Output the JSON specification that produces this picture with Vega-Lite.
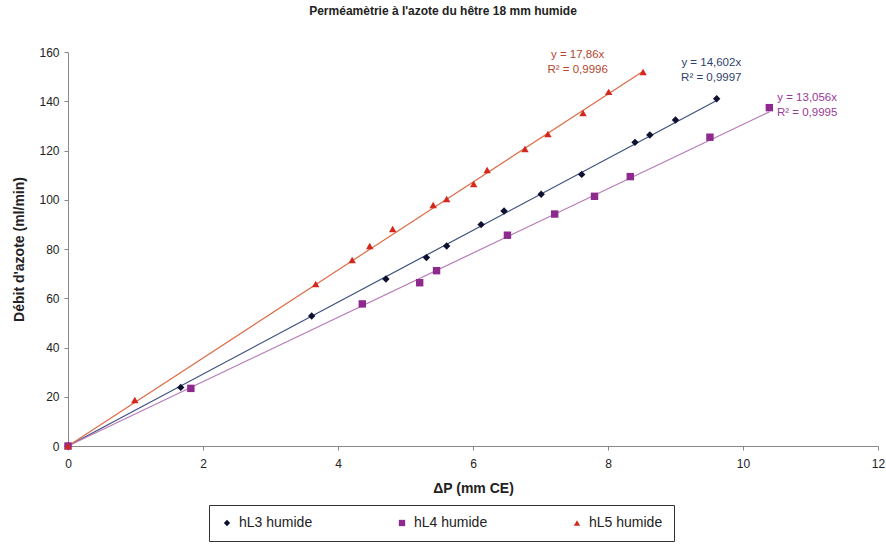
{
  "$schema": "https://vega.github.io/schema/vega-lite/v6.json",
  "autosize": {"type": "none"},
  "padding": {"left": 68, "top": 52, "right": 8, "bottom": 101},
  "width": 810,
  "height": 394,
  "background": "white",
  "title": {
    "text": "Perméamètrie à l'azote du hêtre 18 mm humide",
    "font": "Liberation Sans",
    "fontSize": 12,
    "fontWeight": "bold",
    "color": "#222222",
    "anchor": "middle",
    "dx": -30,
    "offset": 28
  },
  "config": {
    "view": {"stroke": null},
    "axis": {
      "grid": false,
      "labelFlush": false,
      "domainColor": "#888888",
      "tickColor": "#888888",
      "tickSize": 4,
      "labelFont": "Liberation Sans",
      "labelFontSize": 12,
      "labelColor": "#222222",
      "titleFont": "Liberation Sans",
      "titleFontSize": 14,
      "titleFontWeight": "bold",
      "titleColor": "#222222"
    },
    "legend": {
      "orient": "none",
      "legendX": 141,
      "legendY": 453,
      "direction": "horizontal",
      "columnPadding": 82,
      "padding": 11,
      "strokeColor": "#333333",
      "symbolSize": 40,
      "labelOffset": 5,
      "labelFont": "Liberation Sans",
      "labelFontSize": 14,
      "labelColor": "#222222"
    }
  },
  "datasets": {
    "points": [
      {"series": "hL3 humide", "dp": 0, "debit": 0},
      {"series": "hL3 humide", "dp": 1.67, "debit": 23.8},
      {"series": "hL3 humide", "dp": 3.61, "debit": 52.8},
      {"series": "hL3 humide", "dp": 4.71, "debit": 67.8},
      {"series": "hL3 humide", "dp": 5.31, "debit": 76.5},
      {"series": "hL3 humide", "dp": 5.61, "debit": 81.2},
      {"series": "hL3 humide", "dp": 6.12, "debit": 89.9},
      {"series": "hL3 humide", "dp": 6.46, "debit": 95.4},
      {"series": "hL3 humide", "dp": 7.01, "debit": 102.2},
      {"series": "hL3 humide", "dp": 7.61, "debit": 110.3},
      {"series": "hL3 humide", "dp": 8.40, "debit": 123.3},
      {"series": "hL3 humide", "dp": 8.62, "debit": 126.3},
      {"series": "hL3 humide", "dp": 9.00, "debit": 132.4},
      {"series": "hL3 humide", "dp": 9.61, "debit": 141.0},
      {"series": "hL4 humide", "dp": 0, "debit": 0},
      {"series": "hL4 humide", "dp": 1.82, "debit": 23.4},
      {"series": "hL4 humide", "dp": 4.36, "debit": 57.7},
      {"series": "hL4 humide", "dp": 5.21, "debit": 66.3},
      {"series": "hL4 humide", "dp": 5.46, "debit": 71.2},
      {"series": "hL4 humide", "dp": 6.51, "debit": 85.6},
      {"series": "hL4 humide", "dp": 7.21, "debit": 94.2},
      {"series": "hL4 humide", "dp": 7.80, "debit": 101.4},
      {"series": "hL4 humide", "dp": 8.33, "debit": 109.4},
      {"series": "hL4 humide", "dp": 9.51, "debit": 125.4},
      {"series": "hL4 humide", "dp": 10.39, "debit": 137.4},
      {"series": "hL5 humide", "dp": 0, "debit": 0},
      {"series": "hL5 humide", "dp": 0.99, "debit": 18.7},
      {"series": "hL5 humide", "dp": 3.67, "debit": 65.8},
      {"series": "hL5 humide", "dp": 4.21, "debit": 75.5},
      {"series": "hL5 humide", "dp": 4.47, "debit": 81.2},
      {"series": "hL5 humide", "dp": 4.81, "debit": 88.1},
      {"series": "hL5 humide", "dp": 5.41, "debit": 97.9},
      {"series": "hL5 humide", "dp": 5.61, "debit": 100.3},
      {"series": "hL5 humide", "dp": 6.01, "debit": 106.4},
      {"series": "hL5 humide", "dp": 6.21, "debit": 112.1},
      {"series": "hL5 humide", "dp": 6.77, "debit": 120.6},
      {"series": "hL5 humide", "dp": 7.11, "debit": 126.7},
      {"series": "hL5 humide", "dp": 7.63, "debit": 135.2},
      {"series": "hL5 humide", "dp": 8.01, "debit": 143.8},
      {"series": "hL5 humide", "dp": 8.52, "debit": 151.9}
    ],
    "trend": [
      {"courbe": "tendance hL3", "dp": 0, "debit": 0},
      {"courbe": "tendance hL3", "dp": 9.61, "debit": 140.3},
      {"courbe": "tendance hL4", "dp": 0, "debit": 0},
      {"courbe": "tendance hL4", "dp": 10.39, "debit": 135.7},
      {"courbe": "tendance hL5", "dp": 0, "debit": 0},
      {"courbe": "tendance hL5", "dp": 8.52, "debit": 152.2}
    ],
    "labels": [
      {"series": "hL5 humide", "dp": 7.55, "debit": 158.6, "text": "y = 17,86x"},
      {"series": "hL5 humide", "dp": 7.55, "debit": 152.5, "text": "R² = 0,9996"},
      {"series": "hL3 humide", "dp": 9.53, "debit": 155.5, "text": "y = 14,602x"},
      {"series": "hL3 humide", "dp": 9.53, "debit": 149.6, "text": "R² = 0,9997"},
      {"series": "hL4 humide", "dp": 10.95, "debit": 141.3, "text": "y = 13,056x"},
      {"series": "hL4 humide", "dp": 10.95, "debit": 135.2, "text": "R² = 0,9995"}
    ]
  },
  "layer": [
    {
      "data": {"name": "trend"},
      "mark": {"type": "line", "strokeWidth": 1.2, "clip": false},
      "encoding": {
        "x": {"field": "dp", "type": "quantitative"},
        "y": {"field": "debit", "type": "quantitative"},
        "detail": {"field": "courbe"},
        "stroke": {
          "field": "courbe",
          "type": "nominal",
          "scale": {"domain": ["tendance hL3", "tendance hL4", "tendance hL5"], "range": ["#3d4f7c", "#b77cb8", "#dd6c48"]},
          "legend": null
        }
      }
    },
    {
      "data": {"name": "points"},
      "mark": {"type": "point", "filled": true, "size": 55, "opacity": 1, "clip": false},
      "encoding": {
        "x": {
          "field": "dp",
          "type": "quantitative",
          "scale": {"domain": [0, 12], "nice": false, "zero": true},
          "axis": {"title": "ΔP (mm CE)", "values": [0, 2, 4, 6, 8, 10, 12], "format": "d", "labelPadding": 8, "titlePadding": 12}
        },
        "y": {
          "field": "debit",
          "type": "quantitative",
          "scale": {"domain": [0, 160], "nice": false},
          "axis": {"title": "Débit d'azote (ml/min)", "values": [0, 20, 40, 60, 80, 100, 120, 140, 160], "format": "d", "labelPadding": 5, "titlePadding": 12}
        },
        "fill": {
          "field": "series",
          "type": "nominal",
          "scale": {"domain": ["hL3 humide", "hL4 humide", "hL5 humide"], "range": ["#101030", "#8e2a8e", "#d4281c"]},
          "legend": {"title": null}
        },
        "shape": {
          "field": "series",
          "type": "nominal",
          "scale": {"domain": ["hL3 humide", "hL4 humide", "hL5 humide"], "range": ["diamond", "square", "triangle-up"]},
          "legend": {"title": null}
        }
      }
    },
    {
      "data": {"name": "labels"},
      "transform": [{"filter": "datum.series === 'hL5 humide'"}],
      "mark": {"type": "text", "font": "Liberation Sans", "fontSize": 11.5, "align": "center", "baseline": "middle", "fill": "#b5472e", "clip": false},
      "encoding": {
        "x": {"field": "dp", "type": "quantitative"},
        "y": {"field": "debit", "type": "quantitative"},
        "text": {"field": "text"}
      }
    },
    {
      "data": {"name": "labels"},
      "transform": [{"filter": "datum.series === 'hL3 humide'"}],
      "mark": {"type": "text", "font": "Liberation Sans", "fontSize": 11.5, "align": "center", "baseline": "middle", "fill": "#2e3f6e", "clip": false},
      "encoding": {
        "x": {"field": "dp", "type": "quantitative"},
        "y": {"field": "debit", "type": "quantitative"},
        "text": {"field": "text"}
      }
    },
    {
      "data": {"name": "labels"},
      "transform": [{"filter": "datum.series === 'hL4 humide'"}],
      "mark": {"type": "text", "font": "Liberation Sans", "fontSize": 11.5, "align": "center", "baseline": "middle", "fill": "#973a97", "clip": false},
      "encoding": {
        "x": {"field": "dp", "type": "quantitative"},
        "y": {"field": "debit", "type": "quantitative"},
        "text": {"field": "text"}
      }
    }
  ]
}
